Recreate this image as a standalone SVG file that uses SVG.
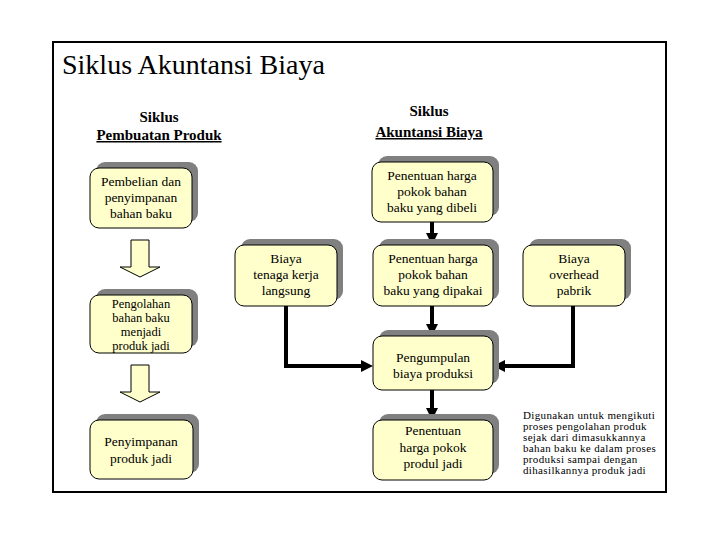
<svg xmlns="http://www.w3.org/2000/svg" width="720" height="540" viewBox="0 0 720 540" font-family="'Liberation Serif', 'DejaVu Serif', serif">
<style>
text{font-family:'Liberation Serif','DejaVu Serif',serif;fill:#000}
.t{font-size:13.5px;text-anchor:middle}
.h{font-size:15px;font-weight:bold;text-anchor:middle}
.n{font-size:11px;letter-spacing:0.35px}
.box{fill:#FFFFCC;stroke:#000;stroke-width:1}
.sh{fill:#808080}
.conn{fill:none;stroke:#000;stroke-width:4}
.blk{fill:#FFFFCC;stroke:#000;stroke-width:1}
</style>
<defs>
<marker id="ah" markerUnits="userSpaceOnUse" markerWidth="12" markerHeight="12" viewBox="0 0 12 12" refX="4" refY="6" orient="auto">
<path d="M0,0 L12,6 L0,12 z" fill="#000"/>
</marker>
</defs>
<rect x="0" y="0" width="720" height="540" fill="#fff"/>
<rect x="53" y="42" width="613" height="450" fill="#fff" stroke="#000" stroke-width="2"/>
<text x="62" y="74" style="font-size:28px">Siklus Akuntansi Biaya</text>
<g id="hdr-left">
<text class="h" x="159" y="122">Siklus</text>
<text class="h" x="159" y="140" text-decoration="underline">Pembuatan Produk</text>
</g>
<g id="hdr-right">
<text class="h" x="429" y="116">Siklus</text>
<text class="h" x="429" y="137" text-decoration="underline">Akuntansi Biaya</text>
</g>
<g id="connectors">
<path class="conn" d="M432,222 V237" marker-end="url(#ah)"/>
<path class="conn" d="M432,306 V328" marker-end="url(#ah)"/>
<path class="conn" d="M286,306 V366 H365" marker-end="url(#ah)"/>
<path class="conn" d="M573,306 V366 H501" marker-end="url(#ah)"/>
<path class="conn" d="M432,390 V412" marker-end="url(#ah)"/>
<polygon class="blk" points="131,240 149,240 149,267 160,267 140,277 120,267 131,267"/>
<polygon class="blk" points="131,365 149,365 149,392 160,392 140,402 120,392 131,392"/>
</g>
<g id="pembelian">
<rect class="sh" x="96" y="162" width="102" height="60" rx="9"/>
<rect class="box" x="90" y="168" width="102" height="60" rx="9"/>
<text class="t" x="141" y="186">Pembelian dan</text>
<text class="t" x="141" y="202">penyimpanan</text>
<text class="t" x="141" y="218">bahan baku</text>
</g>
<g id="pengolahan">
<rect class="sh" x="96" y="289" width="102" height="58" rx="9"/>
<rect class="box" x="90" y="295" width="102" height="58" rx="9"/>
<text class="t" x="141" y="308" style="font-size:12.5px">Pengolahan</text>
<text class="t" x="141" y="322" style="font-size:12.5px">bahan baku</text>
<text class="t" x="141" y="336" style="font-size:12.5px">menjadi</text>
<text class="t" x="141" y="350" style="font-size:12.5px">produk jadi</text>
</g>
<g id="penyimpanan">
<rect class="sh" x="96" y="414" width="103" height="59" rx="9"/>
<rect class="box" x="90" y="420" width="103" height="59" rx="9"/>
<text class="t" x="141" y="446">Penyimpanan</text>
<text class="t" x="141" y="463">produk jadi</text>
</g>
<g id="dibeli">
<rect class="sh" x="378" y="156" width="121" height="60" rx="9"/>
<rect class="box" x="372" y="162" width="121" height="60" rx="9"/>
<text class="t" x="432" y="180">Penentuan harga</text>
<text class="t" x="432" y="196">pokok bahan</text>
<text class="t" x="432" y="212">baku yang dibeli</text>
</g>
<g id="tenaga">
<rect class="sh" x="241" y="239" width="102" height="61" rx="9"/>
<rect class="box" x="235" y="245" width="102" height="61" rx="9"/>
<text class="t" x="286" y="263">Biaya</text>
<text class="t" x="286" y="279">tenaga kerja</text>
<text class="t" x="286" y="295">langsung</text>
</g>
<g id="dipakai">
<rect class="sh" x="379" y="239" width="120" height="61" rx="9"/>
<rect class="box" x="373" y="245" width="120" height="61" rx="9"/>
<text class="t" x="433" y="263">Penentuan harga</text>
<text class="t" x="433" y="279">pokok bahan</text>
<text class="t" x="433" y="295">baku yang dipakai</text>
</g>
<g id="overhead">
<rect class="sh" x="529" y="239" width="102" height="61" rx="9"/>
<rect class="box" x="523" y="245" width="102" height="61" rx="9"/>
<text class="t" x="574" y="263">Biaya</text>
<text class="t" x="574" y="279">overhead</text>
<text class="t" x="574" y="295">pabrik</text>
</g>
<g id="pengumpulan">
<rect class="sh" x="379" y="330" width="120" height="54" rx="9"/>
<rect class="box" x="373" y="336" width="120" height="54" rx="9"/>
<text class="t" x="433" y="362">Pengumpulan</text>
<text class="t" x="433" y="378">biaya produksi</text>
</g>
<g id="produkjadi">
<rect class="sh" x="379" y="414" width="120" height="60" rx="9"/>
<rect class="box" x="373" y="420" width="120" height="60" rx="9"/>
<text class="t" x="433" y="435">Penentuan</text>
<text class="t" x="433" y="452">harga pokok</text>
<text class="t" x="433" y="468">produl jadi</text>
</g>
<g id="note">
<text class="n" x="523" y="419">Digunakan untuk mengikuti</text>
<text class="n" x="523" y="430">proses pengolahan produk</text>
<text class="n" x="523" y="441">sejak dari dimasukkannya</text>
<text class="n" x="523" y="452">bahan baku ke dalam proses</text>
<text class="n" x="523" y="463">produksi sampai dengan</text>
<text class="n" x="523" y="474">dihasilkannya produk jadi</text>
</g>
</svg>
